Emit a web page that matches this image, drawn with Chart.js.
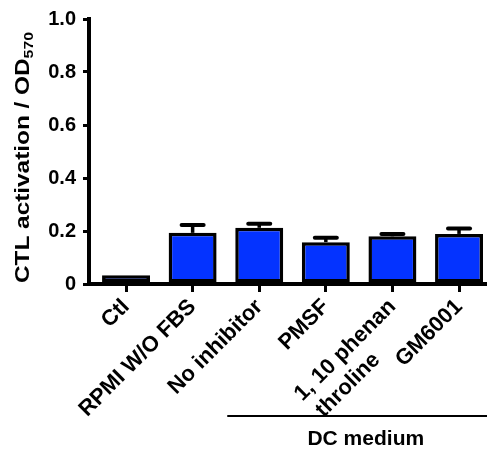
<!DOCTYPE html>
<html>
<head>
<meta charset="utf-8">
<script src="https://cdn.jsdelivr.net/npm/chart.js@4"></script>
<style>
    html, body { margin: 0; padding: 0; background: #fff; }
    #wrap { width: 487px; height: 450px; }
</style>
</head>
<body>
<div id="wrap"><canvas id="myChart" width="487" height="450"></canvas></div>
<script>
var kategorien = ["Ctl", "RPMI W/O FBS", "No inhibitor", "PMSF", ["1, 10 phenan", "throline"], "GM6001"];
var werte = [0.033, 0.193, 0.212, 0.158, 0.180, 0.189];
var fehler = [0, 0.030, 0.015, 0.017, 0.009, 0.020];
var yTicks = [0, 0.2, 0.4, 0.6, 0.8, 1.0];
var yTitel = "CTL activation / OD";
var yTitelSub = "570";
var gruppe = "DC medium";

var schrift = "'Liberation Sans', Arial, sans-serif";

// multi-line labels are left aligned in the original, chart.js aligns right
// -> pad shorter lines with spaces to the width of the longest one
function linksBuendig(zeilen) {
    var c = document.createElement("canvas").getContext("2d");
    c.font = "bold 22px " + schrift;
    var maxW = Math.max(...zeilen.map(z => c.measureText(z).width));
    return zeilen.map(function (z) {
        while (c.measureText(z + " ").width <= maxW + 1) {
            z = z + " ";
        }
        return z;
    });
}

// error bars (upper half only, like prism)
var fehlerPlugin = {
    id: 'fehler',
    beforeDatasetsDraw: function (chart) {
        var ctx = chart.ctx;
        var xs = chart.scales.x, ys = chart.scales.y;
        ctx.save();
        ctx.strokeStyle = "#000";
        for (var i = 0; i < werte.length; i++) {
            if (!fehler[i]) {
                continue;
            }
            var x = xs.getPixelForValue(i);
            var y0 = ys.getPixelForValue(werte[i]);
            var y1 = ys.getPixelForValue(werte[i] + fehler[i]);
            ctx.lineWidth = 3.5;
            ctx.beginPath();
            ctx.moveTo(x, y0);
            ctx.lineTo(x, y1);
            ctx.stroke();
            ctx.lineWidth = 4;
            ctx.lineCap = "round";
            ctx.beginPath();
            ctx.moveTo(x - 11, y1);
            ctx.lineTo(x + 11, y1);
            ctx.stroke();
            ctx.lineCap = "butt";
        }
        ctx.restore();
    }
};

// y title with subscript + DC medium bracket
var textPlugin = {
    id: 'texte',
    afterDraw: function (chart) {
        var ctx = chart.ctx;
        var xs = chart.scales.x;
        var area = chart.chartArea;
        ctx.save();
        ctx.fillStyle = "#000";
        ctx.translate(29, 157.5);
        ctx.rotate(-Math.PI / 2);
        ctx.font = "bold 20px " + schrift;
        var w1 = ctx.measureText(yTitel).width;
        ctx.font = "bold 13px " + schrift;
        var w2 = ctx.measureText(yTitelSub).width;
        var s = 251 / (w1 + w2);
        ctx.scale(s, 1);
        ctx.textBaseline = "alphabetic";
        ctx.textAlign = "left";
        var start = -(w1 + w2) / 2;
        ctx.font = "bold 20px " + schrift;
        ctx.fillText(yTitel, start, 0);
        ctx.font = "bold 13px " + schrift;
        ctx.fillText(yTitelSub, start + w1, 4);
        ctx.restore();

        ctx.save();
        var yl = area.bottom + 132;
        ctx.strokeStyle = "#000";
        ctx.lineWidth = 2;
        ctx.beginPath();
        ctx.moveTo(xs.getPixelForValue(1.52), yl);
        ctx.lineTo(chart.width, yl);
        ctx.stroke();
        ctx.font = "bold 21px " + schrift;
        ctx.fillStyle = "#000";
        ctx.textAlign = "center";
        ctx.textBaseline = "alphabetic";
        ctx.fillText(gruppe, xs.getPixelForValue(3.6), area.bottom + 161);
        ctx.restore();
    }
};

var mychart = new Chart(document.getElementById("myChart"), {
    type: 'bar',
    data: {
        datasets: [{
                data: werte.map((v, i) => ({x: i, y: v})),
                backgroundColor: "#0433ff",
                borderColor: "#000",
                borderWidth: 3.5,
                borderSkipped: false,
                categoryPercentage: 0.8,
                barPercentage: 0.9
            }]
    },
    plugins: [fehlerPlugin, textPlugin],
    options: {
        responsive: false,
        animation: false,
        events: [],
        layout: {
            padding: {top: 16, left: 0, right: 0, bottom: 0}
        },
        plugins: {
            legend: {display: false},
            tooltip: {enabled: false}
        },
        scales: {
            x: {
                type: 'linear',
                min: -0.556,
                max: 5.42,
                offset: false,
                afterBuildTicks: function (scale) {
                    scale.ticks = kategorien.map((k, i) => ({value: i}));
                },
                afterFit: function (scale) {
                    scale.height = 166;
                },
                grid: {
                    offset: false,
                    drawOnChartArea: false,
                    color: "#000",
                    lineWidth: 3,
                    tickLength: 8
                },
                border: {color: "#000", width: 4},
                ticks: {
                    autoSkip: false,
                    maxRotation: 45,
                    minRotation: 45,
                    padding: 2,
                    color: "#000",
                    font: {family: schrift, weight: 'bold', size: 22},
                    callback: function (value) {
                        var k = kategorien[value];
                        return Array.isArray(k) ? linksBuendig(k) : k;
                    }
                }
            },
            y: {
                min: 0,
                max: 1,
                afterBuildTicks: function (scale) {
                    scale.ticks = yTicks.map(v => ({value: v}));
                },
                afterFit: function (scale) {
                    scale.width = 89;
                },
                grid: {
                    drawOnChartArea: false,
                    color: "#000",
                    lineWidth: 3,
                    tickLength: 6
                },
                border: {color: "#000", width: 4},
                ticks: {
                    padding: 7,
                    color: "#000",
                    font: {family: schrift, weight: 'bold', size: 20},
                    callback: function (value) {
                        return value === 0 ? "0" : value.toFixed(1);
                    }
                }
            }
        }
    }
});
</script>
</body>
</html>
